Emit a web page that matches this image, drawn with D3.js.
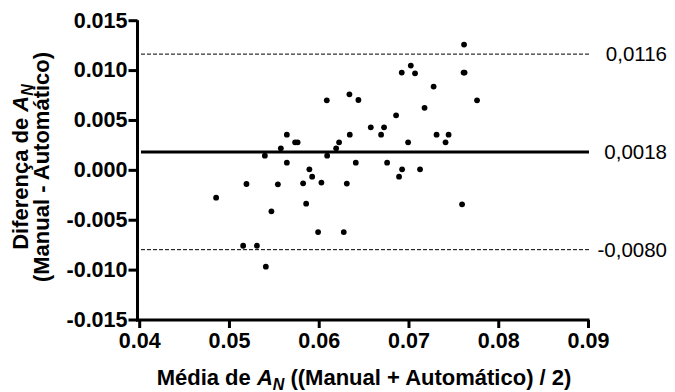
<!DOCTYPE html>
<html>
<head>
<meta charset="utf-8">
<script src="https://cdn.jsdelivr.net/npm/d3@7"></script>
<style>
html,body{margin:0;padding:0;background:#fff;}
svg{display:block;font-family:"Liberation Sans",Arial,Helvetica,sans-serif;}
</style>
</head>
<body>
<svg id="chart" width="675" height="392"></svg>
<script>
// ---- data ----
const meanValues = [0.04857,0.05158,0.05195,0.05311,0.05400,0.05411,0.05473,0.05545,0.05578,0.05645,
  0.05645,0.05737,0.05765,0.05826,0.05860,0.05896,0.05927,0.05993,0.06030,0.06090,
  0.06094,0.06194,0.06227,0.06279,0.06313,0.06342,0.06346,0.06413,0.06442,0.06580,
  0.06695,0.06728,0.06762,0.06862,0.06895,0.06925,0.06929,0.06996,0.07026,0.07073,
  0.07129,0.07179,0.07280,0.07313,0.07413,0.07447,0.07597,0.07619,0.07614,0.07625,0.07764];
const diffValues = [-0.00279,-0.00761,-0.00142,-0.00761,0.00142,-0.00971,-0.00416,-0.00145,0.00216,0.00353,
  0.00072,0.00276,0.00276,-0.00135,-0.00339,0.00005,-0.00068,-0.00624,-0.00128,0.00697,
  0.00142,0.00216,0.00276,-0.00624,-0.00138,0.00757,0.00353,0.00072,0.00700,0.00426,
  0.00353,0.00426,0.00072,0.00547,-0.00068,0.00975,0.00005,0.00276,0.01045,0.00968,
  0.00005,0.00622,0.00835,0.00353,0.00276,0.00353,-0.00346,0.01256,0.00975,0.00975,0.00697];
const xTicks = [0.04,0.05,0.06,0.07,0.08,0.09];
const xTickLabels = ["0.04","0.05","0.06","0.07","0.08","0.09"];
const yTicks = [0.015,0.010,0.005,0.000,-0.005,-0.010,-0.015];
const yTickLabels = ["0.015","0.010","0.005","0.000","-0.005","-0.010","-0.015"];
const refValues = [0.0116,0.0018,-0.0080];
const refLabels = ["0,0116","0,0018","-0,0080"];
const refKinds = ["limit","mean","limit"];

// ---- chart ----
const svg = d3.select("#chart");
const x = d3.scaleLinear().domain([0.04,0.09]).range([139.2,588]);
const y = d3.scaleLinear().domain([-0.015,0.015]).range([319.5,20.2]);
const axisX0 = 137.5, axisY0 = 320;
const FF = "'Liberation Sans',Arial,sans-serif";

// reference lines
refValues.forEach((v,i)=>{
  svg.append("line")
    .attr("x1",141).attr("x2",589)
    .attr("y1",y(v)).attr("y2",y(v))
    .attr("stroke","#000")
    .attr("stroke-width",refKinds[i]==="mean"?3:1)
    .attr("stroke-dasharray",refKinds[i]==="mean"?null:"4,2");
  svg.append("text")
    .attr("x",667).attr("y",y(v))
    .attr("dy","0.35em")
    .attr("text-anchor","end")
    .attr("font-size",20.5)
    .text(refLabels[i]);
});

// points
svg.append("g").selectAll("circle")
  .data(meanValues.map((m,i)=>[m,diffValues[i]]))
  .join("circle")
  .attr("cx",d=>x(d[0])).attr("cy",d=>y(d[1]))
  .attr("r",2.9).attr("fill","#000");

// axes
const gy = svg.append("g").attr("transform",`translate(${axisX0},0)`)
  .call(d3.axisLeft(y).tickValues(yTicks).tickSize(9).tickSizeOuter(0).tickPadding(1)
        .tickFormat((d,i)=>yTickLabels[i]));
const gx = svg.append("g").attr("transform",`translate(0,${axisY0})`)
  .call(d3.axisBottom(x).tickValues(xTicks).tickSize(8).tickSizeOuter(0).tickPadding(5)
        .tickFormat((d,i)=>xTickLabels[i]));
[gx,gy].forEach(g=>{
  g.select(".domain").attr("stroke-width",3).attr("stroke","#000");
  g.selectAll(".tick line").attr("stroke-width",3).attr("stroke","#000");
  g.selectAll(".tick text").attr("font-size",21.5).attr("font-weight","bold")
    .attr("font-family",FF).attr("fill","#000");
});
gy.select(".domain").attr("d",`M0,${y(0.015)}V${axisY0+1.5}`);
gx.select(".domain").attr("d",`M${axisX0-1.5},0H${x(0.09)+1.5}`);

// x title
const xt = svg.append("text").attr("x",364).attr("y",385)
  .attr("text-anchor","middle").attr("font-size",22).attr("font-weight","bold");
xt.append("tspan").text("Média de ");
xt.append("tspan").attr("font-style","italic").text("A");
xt.append("tspan").attr("font-style","italic").attr("font-size",16).attr("dy",5).text("N");
xt.append("tspan").attr("dy",-5).text(" ((Manual + Automático) / 2)");

// y title
const yt = svg.append("text").attr("transform","translate(28,167) rotate(-90)")
  .attr("text-anchor","middle").attr("font-size",22).attr("font-weight","bold");
yt.append("tspan").attr("x",0).text("Diferença de ");
yt.append("tspan").attr("font-style","italic").text("A");
yt.append("tspan").attr("font-style","italic").attr("font-size",16).attr("dy",5).text("N");
svg.append("text").attr("transform","translate(49,167) rotate(-90)")
  .attr("text-anchor","middle").attr("font-size",22).attr("font-weight","bold")
  .text("(Manual - Automático)");
</script>
</body>
</html>
